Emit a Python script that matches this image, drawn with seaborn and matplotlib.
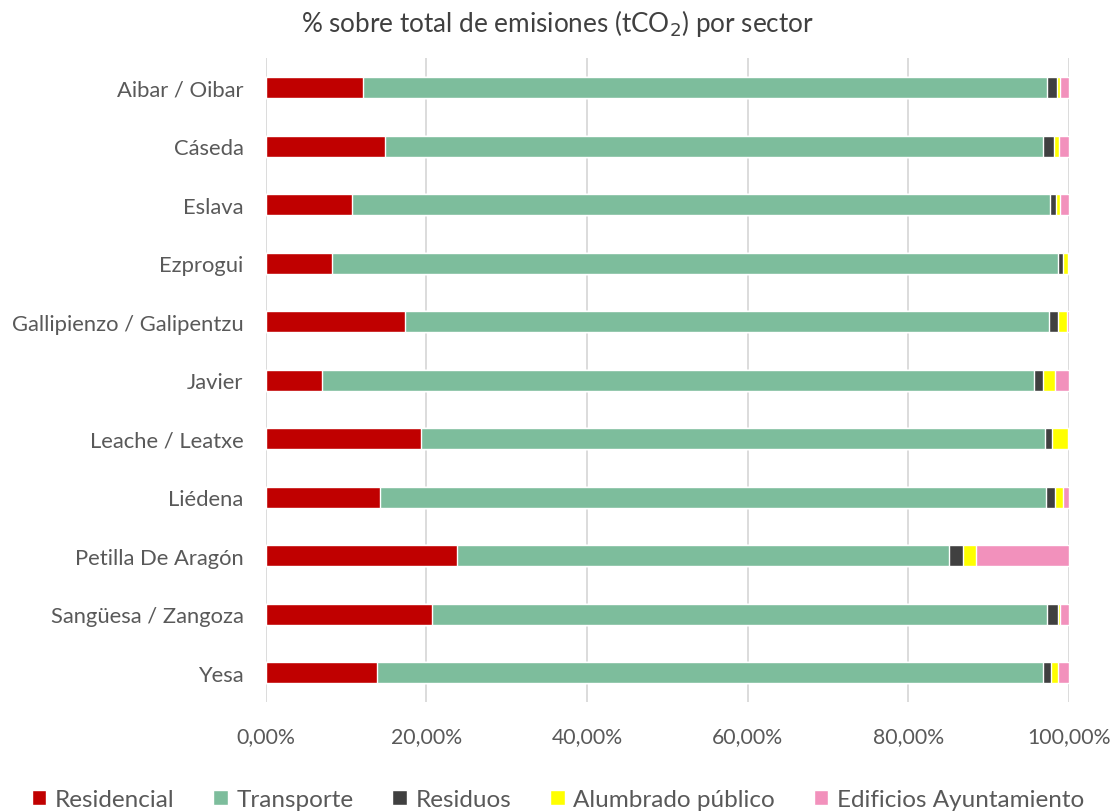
import numpy as np
import pandas as pd
import matplotlib
matplotlib.use("Agg")
import matplotlib.pyplot as plt
import seaborn as sns
from matplotlib.patches import Patch

municipios = ["Aibar / Oibar", "Cáseda", "Eslava", "Ezprogui",
              "Gallipienzo / Galipentzu", "Javier", "Leache / Leatxe",
              "Liédena", "Petilla De Aragón", "Sangüesa / Zangoza", "Yesa"]

residencial = [12.1, 14.8, 10.7, 8.3, 17.3, 7.0, 19.4, 14.2, 23.8, 20.7, 13.9]
transporte = [85.2, 82.0, 86.9, 90.3, 80.2, 88.6, 77.6, 82.9, 61.3, 76.6, 82.8]
residuos = [1.2, 1.3, 0.8, 0.65, 1.1, 1.2, 0.9, 1.2, 1.7, 1.3, 1.1]
alumbrado = [0.4, 0.6, 0.5, 0.65, 1.1, 1.5, 2.0, 0.9, 1.6, 0.3, 0.8]
edificios = [1.1, 1.3, 1.1, 0.1, 0.3, 1.7, 0.1, 0.8, 11.6, 1.1, 1.4]

sectores = ["Residencial", "Transporte", "Residuos", "Alumbrado público",
            "Edificios Ayuntamiento"]
colores = ["#C00000", "#7DBD9C", "#404040", "#FFFF00", "#F291BC"]

df = pd.DataFrame({"Municipio": municipios,
                   "Residencial": residencial,
                   "Transporte": transporte,
                   "Residuos": residuos,
                   "Alumbrado público": alumbrado,
                   "Edificios Ayuntamiento": edificios})
# normalise to 100 and build cumulative columns for stacking
vals = df[sectores]
vals = vals.div(vals.sum(axis=1), axis=0) * 100
cum = vals.cumsum(axis=1)
cum["Municipio"] = df["Municipio"]

sns.set_theme(style="white")
plt.rcParams["font.family"] = ["Lato", "DejaVu Sans"]
gris = "#595959"

fig = plt.figure(figsize=(11.16, 8.12), dpi=100)
ax = fig.add_axes([0.238, 0.134, 0.720, 0.793])

# draw cumulative bars from the largest down so they look stacked
for sector, color in reversed(list(zip(sectores, colores))):
    sns.barplot(data=cum, y="Municipio", x=sector, color=color,
                orient="h", width=0.36, saturation=1, ax=ax, zorder=3)

ax.set_xlim(0, 100)
ax.set_xticks(np.arange(0, 101, 20))
ax.set_xticklabels([f"{v:.2f}%".replace(".", ",") for v in np.arange(0, 101, 20)])
ax.grid(axis="x", color="#D9D9D9", linewidth=1.3, zorder=0)
ax.grid(axis="y", visible=False)
for s in ax.spines.values():
    s.set_visible(False)
ax.set_xlabel("")
ax.set_ylabel("")
ax.tick_params(axis="y", labelsize=15.8, labelcolor=gris, length=0, pad=16)
ax.tick_params(axis="x", labelsize=15.3, labelcolor=gris, length=0, pad=17)

fig.suptitle("% sobre total de emisiones (tCO$_2$) por sector", y=0.99,
             fontsize=18.8, color="#404040")

handles = [Patch(facecolor=c, label=s) for s, c in zip(sectores, colores)]
fig.legend(handles=handles, loc="lower center", ncol=5, frameon=False,
           bbox_to_anchor=(0.5, -0.026), fontsize=17.5, handlelength=0.6,
           handleheight=0.6, handletextpad=0.35, columnspacing=1.6,
           labelcolor=gris)

fig.savefig("out.png", dpi=100)
